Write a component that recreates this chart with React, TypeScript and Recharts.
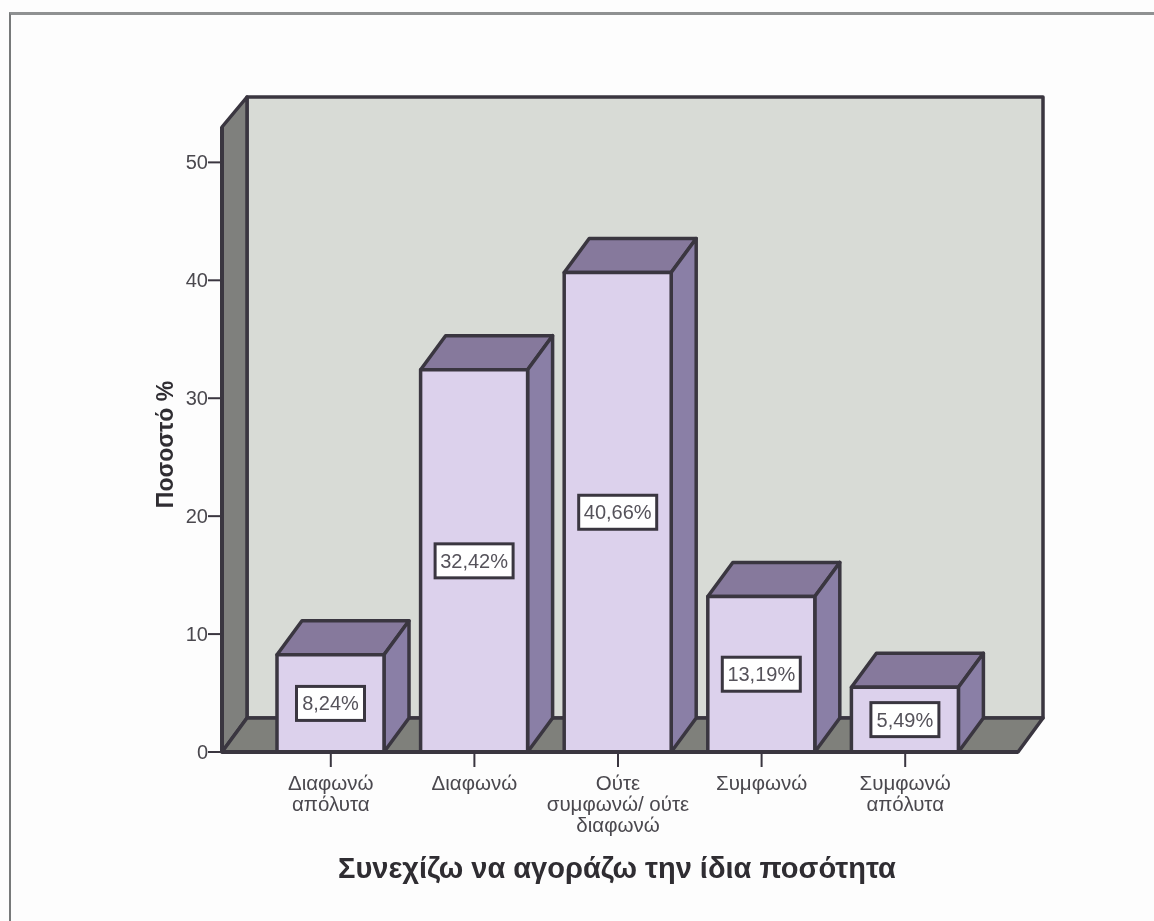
import React from 'react';
import {
  BarChart,
  Bar,
  XAxis,
  YAxis,
  LabelList,
  usePlotArea,
} from 'recharts';

const categories = ['Διαφωνώ απόλυτα', 'Διαφωνώ', 'Ούτε συμφωνώ/ ούτε διαφωνώ', 'Συμφωνώ', 'Συμφωνώ απόλυτα'];
const categoryLines = [
  ['Διαφωνώ', 'απόλυτα'],
  ['Διαφωνώ'],
  ['Ούτε', 'συμφωνώ/ ούτε', 'διαφωνώ'],
  ['Συμφωνώ'],
  ['Συμφωνώ', 'απόλυτα'],
];
const percentages = [8.24, 32.42, 40.66, 13.19, 5.49];
const percentLabels = ['8,24%', '32,42%', '40,66%', '13,19%', '5,49%'];
const yTicks = [0, 10, 20, 30, 40, 50];

const data = categories.map((name, i) => ({
  name,
  value: percentages[i],
  label: percentLabels[i],
}));

const FONT = '"Liberation Sans", Arial, sans-serif';
const INK = '#3a3640';
const DX = 25;
const DY = 34;
const WALL_TOP_DY = 30;

// back wall, side wall and floor of the 3D box
const ChartBox = () => {
  const area = usePlotArea();
  if (!area) return null;
  const { x, y, width, height } = area;
  const right = x + width;
  const bottom = y + height;
  const wallTop = y - WALL_TOP_DY;
  return (
    <g stroke={INK} strokeWidth={3.5} strokeLinejoin="round">
      <polygon
        points={`${x + DX},${wallTop} ${right + DX},${wallTop} ${right + DX},${bottom - DY} ${x + DX},${bottom - DY}`}
        fill="#d8dbd6"
      />
      <polygon
        points={`${x},${y} ${x + DX},${wallTop} ${x + DX},${bottom - DY} ${x},${bottom}`}
        fill="#7f807d"
      />
      <polygon
        points={`${x},${bottom} ${x + DX},${bottom - DY} ${right + DX},${bottom - DY} ${right},${bottom}`}
        fill="#7f807b"
      />
    </g>
  );
};

const Bar3D = (props: any) => {
  const { x, y, width, height } = props;
  return (
    <g stroke={INK} strokeWidth={3.5} strokeLinejoin="round">
      <polygon
        points={`${x},${y} ${x + DX},${y - DY} ${x + width + DX},${y - DY} ${x + width},${y}`}
        fill="#86799c"
      />
      <polygon
        points={`${x + width},${y} ${x + width + DX},${y - DY} ${x + width + DX},${y + height - DY} ${x + width},${y + height}`}
        fill="#8a7fa6"
      />
      <rect x={x} y={y} width={width} height={height} fill="#dcd1ec" />
    </g>
  );
};

const BoxLabel = (props: any) => {
  const { x, y, width, height, value } = props;
  const boxW = String(value).length > 5 ? 78 : 68;
  const boxH = 34;
  const cx = x + width / 2;
  const cy = y + height / 2;
  return (
    <g>
      <rect x={cx - boxW / 2} y={cy - boxH / 2} width={boxW} height={boxH} fill="#ffffff" stroke={INK} strokeWidth={3} />
      <text x={cx} y={cy + 7} textAnchor="middle" fontFamily={FONT} fontSize={20} fill="#55525a">
        {value}
      </text>
    </g>
  );
};

const CategoryTick = (props: any) => {
  const { x, y, index } = props;
  return (
    <text x={x} y={y} textAnchor="middle" fontFamily={FONT} fontSize={20.5} fill="#4a484e">
      {categoryLines[index].map((line, i) => (
        <tspan key={i} x={x} y={y + 21 + i * 21}>
          {line}
        </tspan>
      ))}
    </text>
  );
};

const YTitle = (props: any) => {
  const { x, y, height } = props.viewBox;
  const tx = x + 11;
  const ty = y + height / 2 + 5;
  return (
    <text
      x={tx}
      y={ty}
      transform={`rotate(-90 ${tx} ${ty})`}
      textAnchor="middle"
      fontFamily={FONT}
      fontSize={23}
      fontWeight={700}
      fill="#2f2d32"
    >
      Ποσοστό %
    </text>
  );
};

const App = () => {
  return (
    <div style={{ position: 'absolute', left: 0, top: 0, width: 1154, height: 921, background: '#fdfdfd', overflow: 'hidden' }}>
      <div style={{ position: 'absolute', left: 9, top: 12, right: -5, bottom: -5, borderLeft: '2px solid #77797a', borderTop: '3px solid #8f9192' }} />
      <BarChart
        width={1154}
        height={921}
        data={data}
        barSize={107}
        margin={{ top: 127, right: 136, bottom: 29, left: 162 }}
        style={{ position: 'absolute', left: 0, top: 0, filter: 'blur(0.5px)' }}
      >
        <ChartBox />
        <XAxis
          dataKey="name"
          height={140}
          interval={0}
          padding={{ left: 37, right: 41 }}
          axisLine={{ stroke: INK, strokeWidth: 4 }}
          tickLine={{ stroke: INK, strokeWidth: 2 }}
          tickSize={15}
          tick={<CategoryTick />}
          label={{
            value: 'Συνεχίζω να αγοράζω την ίδια ποσότητα',
            position: 'insideBottom',
            offset: 14,
            dx: -3,
            fontFamily: FONT,
            fontSize: 29,
            fontWeight: 700,
            fill: '#2f2d32',
          }}
        />
        <YAxis
          width={60}
          domain={[0, 53]}
          ticks={yTicks}
          interval={0}
          axisLine={{ stroke: INK, strokeWidth: 4 }}
          tickLine={{ stroke: INK, strokeWidth: 2 }}
          tickSize={14}
          tickMargin={0}
          tick={{ fontFamily: FONT, fontSize: 20, fill: '#4a484e' }}
          label={<YTitle />}
        />
        <Bar dataKey="value" isAnimationActive={false} shape={<Bar3D />}>
          <LabelList dataKey="label" content={<BoxLabel />} />
        </Bar>
      </BarChart>
    </div>
  );
};

export default App;
